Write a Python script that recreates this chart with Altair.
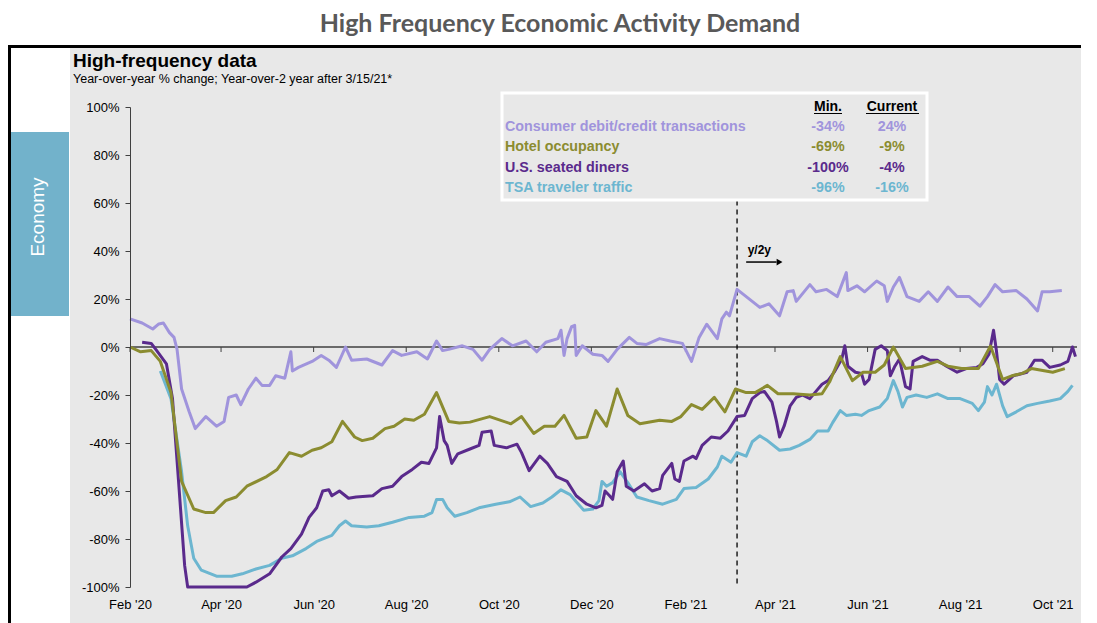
import altair as alt
import pandas as pd

# ---------------- data ----------------
START = "2020-02-01"
DOMAIN_END = "2021-10-17"

series_names = ["Consumer debit/credit transactions", "Hotel occupancy",
                "U.S. seated diners", "TSA traveler traffic"]
series_colors = ["#a094dc", "#8b8c30", "#5a2a8c", "#6cb6d0"]
min_labels = ["-34%", "-69%", "-100%", "-96%"]
current_labels = ["24%", "-9%", "-4%", "-16%"]

# days since 2020-02-01, and % change
consumer_days = [0, 8, 15, 19, 22, 26, 29, 31, 34, 39, 43, 50, 57, 62, 65, 70, 73, 78, 83, 87,
                 92, 96, 102, 106, 107, 111, 120, 126, 131, 136, 142, 146, 156, 166, 173, 179, 189, 196, 202, 206,
                 210, 219, 226, 232, 237, 245, 252, 261, 268, 274, 282, 284, 286, 288, 291, 293, 294, 298, 305, 311,
                 315, 321, 329, 334, 340, 349, 356, 364, 370, 375, 380, 387, 390, 393, 395, 400, 410, 415, 421, 428,
                 433, 437, 439, 448, 452, 459, 466, 469, 472, 473, 479, 484, 492, 497, 499, 503, 507, 512, 520, 526,
                 532, 539, 545, 553, 560, 565, 570, 575, 584, 591, 598, 601, 606, 614]
consumer_vals = [11.7, 10, 7.5, 9.6, 10, 6, 4, -1, -17.5, -27, -34, -29, -33, -31, -21, -20, -24, -17.5, -13, -16,
                 -16, -12, -13, -2, -10, -8.5, -6, -3.5, -5.5, -8.5, 0, -5.5, -5, -7.5, -1.5, -3.5, -2, -5, 2.5, -1.5,
                 -1, 0.5, -1, -5.5, -1, 3.5, 0.5, 2.5, -2, 2, 3.5, 7, -3.5, 3.5, 8.5, 9, -3.5, 0.5, -3, -3.5,
                 -6, -1, 4, 1.5, 1, 3.5, 2.5, 1.5, -6, 4, 9.5, 3.5, 11.7, 14.5, 13, 24, 19, 16.5, 18, 13,
                 23, 23.5, 19, 26, 23, 24, 21, 26, 31, 23.5, 25.5, 23, 27.5, 25.5, 19, 25, 29, 21, 19, 23,
                 19, 25, 21, 21, 17, 21, 26, 23, 23.5, 20, 15, 23, 23, 23.5]

hotel_days = [0, 7, 14, 20, 27, 34, 42, 50, 55, 63, 70, 77, 90, 97, 105, 113, 120, 126, 133, 140,
              148, 153, 160, 168, 174, 181, 187, 194, 202, 210, 217, 224, 237, 251, 258, 266, 273, 280, 286, 294,
              301, 307, 314, 321, 328, 336, 349, 357, 363, 370, 377, 385, 392, 399, 406, 412, 420, 427, 437, 448,
              456, 461, 468, 476, 483, 491, 497, 503, 511, 522, 532, 539, 548, 559, 567, 575, 581, 588, 594, 608,
              616]
hotel_vals = [0, -2, -1.5, -6, -19, -56, -67.5, -69, -69, -64, -62.5, -58, -54, -51, -44, -45.5, -43, -42, -39.5, -31,
              -37.5, -39, -38, -34, -33, -30, -30.5, -28, -19, -31, -31.7, -31.3, -29, -32, -29, -36, -33, -33, -28.5, -38,
              -37.5, -26.5, -33, -17.5, -28.5, -32, -30.5, -31, -29, -24, -26, -21, -27, -17.5, -19, -19, -16, -19.5, -19.5, -20,
              -19.5, -14.5, -4, -14, -10.5, -10.5, -7.5, 0, -9, -8, -6, -8, -9, -9, 0.4, -13.5, -12, -11, -9, -10.5,
              -9]

diners_days = [8, 14, 17, 24, 28, 32, 36, 38, 77, 83, 92, 100, 106, 113, 118, 123, 127, 131, 133, 138,
               144, 149, 160, 166, 173, 179, 186, 192, 197, 202, 204, 207, 209, 212, 216, 224, 230, 232, 238, 240,
               248, 255, 258, 263, 270, 275, 281, 288, 294, 301, 307, 311, 313, 316, 318, 321, 325, 327, 332, 339,
               344, 349, 351, 357, 359, 362, 365, 371, 373, 377, 383, 389, 394, 400, 405, 410, 415, 418, 423, 426,
               428, 431, 435, 439, 443, 448, 452, 456, 460, 464, 469, 471, 473, 478, 482, 484, 487, 491, 495, 499,
               501, 504, 507, 511, 514, 516, 522, 527, 532, 538, 545, 551, 558, 562, 566, 569, 571, 573, 576, 582,
               591, 596, 601, 606, 613, 618, 621, 623]
diners_vals = [2, 1.5, -1, -7, -21.5, -56, -91, -100, -100, -98, -94.5, -87.5, -84, -78, -71, -67, -60, -59.5, -62, -60,
               -63, -62.5, -62, -59, -58, -54, -51, -48, -48.5, -42, -29, -39, -41, -48.5, -44.5, -42.5, -41, -35.5, -35, -41,
               -42, -40.5, -44, -51.5, -45.5, -48.5, -54, -56, -62, -65.5, -67, -66, -60, -62, -63.5, -52, -47.5, -58, -60, -57,
               -60, -59, -53.5, -48.5, -55, -56, -47.5, -45.5, -46.5, -41, -37.5, -38, -35, -29, -28.5, -21.5, -19, -18.5, -23, -31,
               -37.5, -33, -24.5, -21, -20, -21.5, -18.5, -15.5, -14, -10.5, -5, 0.5, -8, -10.5, -11, -15.5, -13.5, -1, 0.5, -1.5,
               -12, -8, -5, -16.5, -17.5, -6, -4, -5.5, -5.5, -8, -10.5, -9, -8.5, -7, -3, 7, -2, -13.5, -15.5, -12,
               -10.5, -5.5, -5.5, -8.5, -7.5, -6, 0, -4]

tsa_days = [20, 27, 34, 38, 42, 47, 57, 67, 74, 83, 92, 100, 107, 116, 123, 133, 138, 142, 146, 156,
            164, 173, 184, 194, 199, 202, 206, 209, 214, 222, 230, 241, 250, 257, 264, 272, 278, 284, 290, 294,
            299, 305, 309, 311, 314, 318, 323, 328, 334, 342, 351, 360, 365, 373, 381, 387, 390, 396, 400, 406,
            410, 415, 420, 428, 435, 441, 448, 453, 460, 463, 468, 472, 478, 482, 487, 494, 499, 503, 506, 509,
            512, 518, 525, 532, 539, 547, 555, 559, 563, 565, 568, 571, 575, 578, 584, 591, 598, 606, 613, 618,
            621]
tsa_vals = [-10, -21.5, -52, -74.5, -88, -93, -95.5, -95.5, -94.5, -92.5, -91, -88, -87, -84, -81, -78.5, -74.5, -72.5, -74.5, -75,
            -74.5, -73, -71, -70.5, -69, -63.5, -63.5, -67, -70.5, -69, -67, -65.5, -64.5, -62.5, -66.5, -65, -62.5, -59.5, -61.5, -64.5,
            -68, -67.5, -64, -56, -58, -56.5, -52, -56.5, -62.5, -64, -65.5, -63.5, -59, -58.5, -55, -50, -45.5, -48, -44, -45.5,
            -39.5, -37, -39, -43, -42.5, -41, -38.5, -35, -35, -31.5, -26.5, -28.5, -28, -28.5, -26.5, -25, -21.5, -14, -18.5, -25,
            -21, -20, -21, -19.5, -21.5, -21.5, -23.5, -26.5, -23, -16.5, -20, -15.5, -24.5, -29, -27, -24.5, -23.5, -22.5, -21.5, -18.5,
            -16]

tick_dates = ["2020-02-01", "2020-04-01", "2020-06-01", "2020-08-01", "2020-10-01", "2020-12-01",
              "2021-02-01", "2021-04-01", "2021-06-01", "2021-08-01", "2021-10-01"]
y_ticks = [-100, -80, -60, -40, -20, 0, 20, 40, 60, 80, 100]

split_day = [400]            # y/2y switch (dashed line)
split_span = [61, -100]
arrow_days = [406, 428]
arrow_level = [35.4]
label_day = [407]
label_level = [40.4]

title_text = "High Frequency Economic Activity Demand"
header_text = "High-frequency data"
subtitle_text = "Year-over-year % change; Year-over-2 year after 3/15/21*"
tab_text = "Economy"

# ---------------- helpers ----------------
def iso(d):
    return (pd.Timestamp(START) + pd.Timedelta(days=int(d))).strftime("%Y-%m-%d")


def ms(s):
    return int(pd.Timestamp(s).timestamp() * 1000)


FONT = "Liberation Sans"
W, H = 947, 480
RIGHT_EDGE = 951   # plot-area coordinate of the picture's right edge
one = pd.DataFrame({"k": [0]})

all_days = [consumer_days, hotel_days, diners_days, tsa_days]
all_vals = [consumer_vals, hotel_vals, diners_vals, tsa_vals]
frames = {}
for name, days, vals in zip(series_names, all_days, all_vals):
    frames[name] = pd.DataFrame({"date": [iso(d) for d in days], "value": vals, "series": name})

x_scale = alt.Scale(type="utc", domain=[ms(START), ms(DOMAIN_END)])
y_scale = alt.Scale(domain=[-100, 100], nice=False, zero=False)

x_axis = alt.Axis(values=[ms(s) for s in tick_dates],
                  labelExpr="utcFormat(datum.value, \"%b '%y\")",
                  domain=False, ticks=False, grid=False, title=None,
                  labelFont=FONT, labelFontSize=13, labelColor="#000000",
                  labelPadding=11, labelFlush=False, labelOverlap=False, zindex=1)
y_axis = alt.Axis(values=y_ticks, labelExpr="datum.value + '%'",
                  domain=True, domainColor="#404040", domainWidth=1,
                  ticks=True, tickColor="#404040", tickSize=5, grid=False, title=None,
                  labelFont=FONT, labelFontSize=13, labelColor="#000000",
                  labelPadding=6, labelFlush=False, labelOverlap=False, zindex=1)


def rect(x, x2, y, y2, **kw):
    return alt.Chart(one).mark_rect(**kw).encode(
        x=alt.value(x), x2=alt.value(x2), y=alt.value(y), y2=alt.value(y2))


def text(x, y, s, **kw):
    return alt.Chart(one).mark_text(text=s, **kw).encode(x=alt.value(x), y=alt.value(y))


layers = []
# decorations: panel, frame, tab
layers.append(rect(-60, RIGHT_EDGE, -59, 516, fill="#e8e8e8"))
layers.append(rect(-122, RIGHT_EDGE, -62, -59, fill="#000000"))
layers.append(rect(-122, -119, -62, 516, fill="#000000"))
layers.append(rect(-119, -61, 25, 209, fill="#72b2cb"))
layers.append(text(-92, 110, tab_text, font=FONT, fontSize=19, color="white", angle=270,
                   align="center", baseline="middle"))
layers.append(text(430, -83, title_text, font="Lato", fontSize=25, fontWeight="bold",
                   color="#595959", align="center", baseline="middle"))
layers.append(text(-57, -40, header_text, font=FONT, fontSize=19, fontWeight="bold",
                   color="#000000", align="left", baseline="alphabetic"))
layers.append(text(-57, -24, subtitle_text, font=FONT, fontSize=12.5,
                   color="#000000", align="left", baseline="alphabetic"))

# zero line
layers.append(alt.Chart(one).mark_rule(color="#404040", strokeWidth=1.5).encode(
    y=alt.Y(datum=0, type="quantitative", scale=y_scale, axis=y_axis)))

# small ticks hanging from the zero line
tick_df = pd.DataFrame({"date": tick_dates})
layers.append(alt.Chart(tick_df).mark_rule(color="#404040", strokeWidth=1, y2Offset=5).encode(
    x=alt.X("date:T", scale=x_scale, axis=x_axis),
    y=alt.Y(datum=0, type="quantitative"),
    y2=alt.Y2(datum=0)))

# dashed y/2y line
split_df = pd.DataFrame({"date": [iso(d) for d in split_day], "y0": [split_span[0]], "y1": [split_span[1]]})
layers.append(alt.Chart(split_df).mark_rule(color="#000000", strokeWidth=1.3, strokeDash=[5, 4]).encode(
    x=alt.X("date:T"), y=alt.Y("y0:Q"), y2="y1:Q"))

# series lines (order of drawing)
for idx in [3, 0, 2, 1]:
    name = series_names[idx]
    layers.append(alt.Chart(frames[name]).mark_line(
        color=series_colors[idx], strokeWidth=3, strokeJoin="round").encode(
        x=alt.X("date:T"), y=alt.Y("value:Q")))

# y/2y annotation
arrow_df = pd.DataFrame({"date": [iso(arrow_days[0])], "date2": [iso(arrow_days[1] - 2)], "v": arrow_level})
layers.append(alt.Chart(arrow_df).mark_rule(color="#000000", strokeWidth=1.5).encode(
    x=alt.X("date:T"), x2="date2:T", y=alt.Y("v:Q")))
head_df = pd.DataFrame({"date": [iso(arrow_days[1])], "v": arrow_level})
layers.append(alt.Chart(head_df).mark_point(shape="triangle-right", filled=True, size=45,
                                            color="#000000", opacity=1).encode(
    x=alt.X("date:T"), y=alt.Y("v:Q")))
lab_df = pd.DataFrame({"date": [iso(label_day[0])], "v": label_level, "t": ["y/2y"]})
layers.append(alt.Chart(lab_df).mark_text(font=FONT, fontSize=12, fontWeight="bold", color="#000000",
                                          align="left", baseline="middle").encode(
    x=alt.X("date:T"), y=alt.Y("v:Q"), text="t:N"))

# legend table
layers.append(rect(372, 797, -14, 93, fill="#e8e8e8", stroke="white", strokeWidth=3))
layers.append(text(698, 0, "Min.", font=FONT, fontSize=14, fontWeight="bold", color="#000000",
                   align="center", baseline="middle"))
layers.append(text(762, 0, "Current", font=FONT, fontSize=14, fontWeight="bold", color="#000000",
                   align="center", baseline="middle"))
layers.append(alt.Chart(one).mark_rule(color="#000000", strokeWidth=1).encode(
    x=alt.value(684), x2=alt.value(712), y=alt.value(6.5)))
layers.append(alt.Chart(one).mark_rule(color="#000000", strokeWidth=1).encode(
    x=alt.value(736), x2=alt.value(789), y=alt.value(6.5)))
for i, (name, col, mn, cur) in enumerate(zip(series_names, series_colors, min_labels, current_labels)):
    yy = 20 + i * 20.4
    layers.append(text(375, yy, name, font=FONT, fontSize=14.3, fontWeight="bold", color=col,
                       align="left", baseline="middle"))
    layers.append(text(698, yy, mn, font=FONT, fontSize=14.3, fontWeight="bold", color=col,
                       align="center", baseline="middle"))
    layers.append(text(762, yy, cur, font=FONT, fontSize=14.3, fontWeight="bold", color=col,
                       align="center", baseline="middle"))

chart = alt.layer(*layers).properties(
    width=W, height=H,
    autosize=alt.AutoSizeParams(type="none"),
    padding={"left": 122, "top": 99, "right": 12, "bottom": 36},
    background="white",
).configure_view(stroke=None)

chart.save("out.html", embed_options={"renderer": "svg", "actions": False})
